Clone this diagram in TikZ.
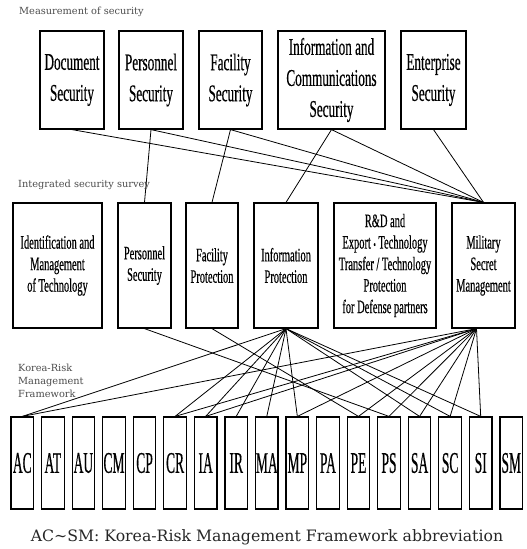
\documentclass[tikz,border=0pt]{standalone}
\usepackage{fontspec}
\setmainfont{Liberation Serif}
\newfontfamily\narrowfont[FakeStretch=0.55, FakeBold=0.4]{Liberation Serif}
\newfontfamily\abbrfont[FakeStretch=0.45, FakeBold=0.4]{Liberation Serif}
\newfontfamily\labelfont{DejaVu Serif}
\usetikzlibrary{arrows.meta, positioning}

\tikzset{
  box/.style={draw, line width=1.2pt, inner sep=0pt, align=center},
  topbox/.style={box, minimum height=98pt, font=\narrowfont\fontsize{24}{31}\selectfont},
  midbox/.style={box, minimum height=125pt, font=\narrowfont\fontsize{19}{21.5}\selectfont},
  abbrbox/.style={box, minimum width=22.5pt, minimum height=92pt, font=\abbrfont\fontsize{30}{32}\selectfont},
  tag/.style={anchor=west, inner sep=0pt, text=black!70, align=left, font=\labelfont\fontsize{9.8}{13}\selectfont},
}

\begin{document}
\begin{tikzpicture}[x=1pt, y=-1pt]
            \useasboundingbox (0,0) rectangle (527,549);

            % measurement of security
            \node (lbltop) [tag] at (19,12) {Measurement of security};
            \node (doc) [topbox, minimum width=64pt] at (72,80) {Document\\Security};
            \node (pers) [topbox, minimum width=64pt] at (151,80) {Personnel\\Security};
            \node (fac) [topbox, minimum width=63pt] at (230.5,80) {Facility\\Security};
            \node (icom) [topbox, minimum width=107pt] at (331.5,80) {Information and\\Communications\\Security};
            \node (ent) [topbox, minimum width=65pt] at (433.5,80) {Enterprise\\Security};

            % integrated security survey
            \node (lblmid) [tag] at (18,185) {Integrated security survey};
            \node (ident) [midbox, minimum width=89pt] at (57.5,265.5) {Identification and\\Management\\of Technology};
            \node (pers2) [midbox, minimum width=53pt] at (144.5,265.5) {Personnel\\Security};
            \node (facp) [midbox, minimum width=52pt] at (212,265.5) {Facility\\Protection};
            \node (infop) [midbox, minimum width=64pt] at (286,265.5) {Information\\Protection};
            \node (rnd) [midbox, minimum width=102pt] at (385,265.5) {R\&D and\\Export {\fontsize{12}{12}\selectfont\textbullet} Technology\\Transfer / Technology\\Protection\\for Defense partners};
            \node (mil) [midbox, minimum width=63pt] at (483.5,265.5) {Military\\Secret\\Management};
            \coordinate (milfoot) at ([xshift=-7pt]mil.south);

            % korea-risk management framework
            \node (lblbot) [tag] at (18,381) {Korea-Risk\\Management\\Framework};
            \foreach \ab [count=\i from 0] in {AC,AT,AU,CM,CP,CR,IA,IR,MA,MP,PA,PE,PS,SA,SC,SI,SM}
                \node (\ab) [abbrbox] at (22.3+30.56*\i,463) {\ab};

            \node (caption) [font=\labelfont\fontsize{15.7}{18}\selectfont, text=black!85] at (267,537)
                {AC\textasciitilde SM: Korea-Risk Management Framework abbreviation};

            \path[line width=0.8pt]
            (doc.south) edge (mil.north)
            (pers.south) edge (pers2.north)
            (pers.south) edge (mil.north)
            (fac.south) edge (facp.north)
            (fac.south) edge (mil.north)
            (icom.south) edge (infop.north)
            (icom.south) edge (mil.north)
            (ent.south) edge (mil.north)
            (pers2.south) edge (PS.north)
            (facp.south) edge (PE.north);

            \foreach \t in {AC,CR,IA,IR,MA,MP,SA,SC,SI}
                \draw[line width=0.8pt] (infop.south) -- (\t.north);
            \foreach \t in {AC,CR,IA,MP,PE,PS,SA,SC,SI}
                \draw[line width=0.8pt] (milfoot) -- (\t.north);
        \end{tikzpicture}
\end{document}
